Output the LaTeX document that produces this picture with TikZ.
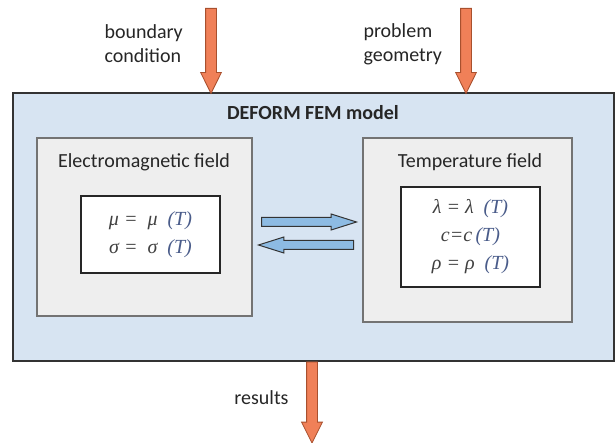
\documentclass[tikz,border=0pt]{standalone}
\usepackage{fontspec}
\setmainfont{Carlito}
\newfontfamily\eqfont{Liberation Serif}
\usetikzlibrary{shapes.arrows, positioning, calc}
\definecolor{femblue}{HTML}{D7E4F2}
\definecolor{fieldgrey}{HTML}{EEEEEE}
\definecolor{loadorange}{HTML}{F08058}
\definecolor{loadedge}{HTML}{A8502E}
\definecolor{flowblue}{HTML}{8DBBE3}
\definecolor{edgegrey}{HTML}{333333}
\definecolor{argblue}{HTML}{4A5C8A}
\newcommand{\ofT}{{\color{argblue}(T)}}

\begin{document}
\begin{tikzpicture}[x=1pt, y=-1pt,
    model/.style={draw=edgegrey, fill=femblue, line width=1.2pt,
                  minimum width=601pt, minimum height=268pt},
    field/.style={draw=black!55, fill=fieldgrey, line width=1.5pt},
    eqbox/.style={draw=black!85, fill=white, line width=1.8pt,
                  font=\eqfont\itshape\fontsize{20}{28}\selectfont,
                  text=black!75, align=center, minimum width=139pt},
    heading/.style={font=\fontsize{20}{24}\selectfont, text=black!85},
    load/.style={single arrow, draw=loadedge, fill=loadorange, line width=0.8pt,
                 inner xsep=0pt, inner ysep=5pt, single arrow head extend=5pt,
                 single arrow tip angle=53, rotate=-90, anchor=tail},
    flow/.style={single arrow, draw=edgegrey, fill=flowblue, line width=1pt,
                 inner xsep=0pt, inner ysep=4pt, single arrow head extend=3.5pt,
                 single arrow tip angle=35, minimum height=95pt, anchor=tail}
  ]
  \useasboundingbox (0,0) rectangle (616,443);

  \node[model] (fem) at (313.5,227) {};
  \node[heading, font=\fontsize{20}{24}\selectfont\bfseries] (femtitle) at (313,113) {DEFORM FEM model};

  % field boxes
  \node[field, minimum width=215pt, minimum height=178pt] (emf) at (144.5,227) {};
  \node[field, minimum width=209pt, minimum height=184pt] (tf) at (467.5,230) {};
  \node[heading] (emftitle) at (144,162) {Electromagnetic field};
  \node[heading] (tftitle) at (470,162) {Temperature field};

  \node[eqbox, minimum height=77pt] (emeq) at (150.5,234.5)
    {μ =\enspace μ\enspace \ofT\\ σ =\enspace σ\enspace \ofT};
  \node[eqbox, minimum height=100pt] (teq) at (470.5,237)
    {λ = λ\enspace \ofT\\ c=c\,\ofT\\ ρ = ρ\enspace \ofT};

  % coupling
  \coordinate (em2tstart) at (261,222);
  \coordinate (t2emstart) at (354,245);
  \node[flow] (em2t) at (em2tstart) {};
  \node[flow, rotate=180] (t2em) at (t2emstart) {};

  % inputs and output
  \coordinate (bctop) at (211,8);
  \coordinate (pgtop) at (466,8);
  \node[load, minimum height=85pt] (bcarrow) at (bctop) {};
  \node[load, minimum height=85pt] (pgarrow) at (pgtop) {};
  \node[load, minimum height=81pt] (resarrow) at (fem.south -| 312,0) {};

  \node[heading, anchor=west, align=left] (bclabel) at (101,44) {boundary\\condition};
  \node[heading, anchor=west, align=left] (pglabel) at (360,44) {problem\\geometry};
  \node[heading] (reslabel) at (261.5,398) {results};
\end{tikzpicture}
\end{document}
